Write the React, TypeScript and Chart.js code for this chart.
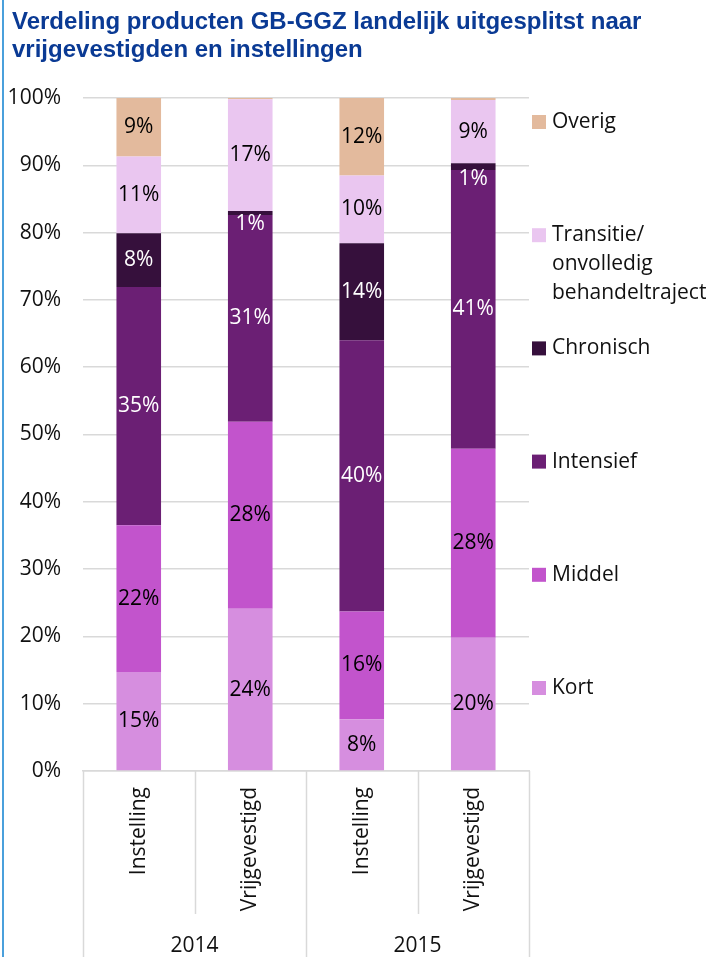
import React, { useEffect, useRef } from "react";
import { Chart, registerables } from "chart.js";

Chart.register(...registerables);

// ---------- data ----------
const categories = ["Instelling", "Vrijgevestigd", "Instelling", "Vrijgevestigd"];
const years = ["2014", "2015"];
const seriesNames = ["Kort", "Middel", "Intensief", "Chronisch", "Transitie/onvolledig behandeltraject", "Overig"];
const legendLabels = [["Kort"], ["Middel"], ["Intensief"], ["Chronisch"], ["Transitie/", "onvolledig", "behandeltraject"], ["Overig"]];
const kort = [14.7, 24.1, 7.7, 19.8];
const middel = [21.8, 27.8, 16.0, 28.1];
const intensief = [35.4, 30.7, 40.3, 41.4];
const chronisch = [8.0, 0.6, 14.4, 1.0];
const transitie = [11.4, 16.6, 10.1, 9.4];
const overig = [8.7, 0.2, 11.5, 0.3];
const titleLines = ["Verdeling producten GB-GGZ landelijk uitgesplitst naar", "vrijgevestigden en instellingen"];

// ---------- styles ----------
const colors = ["#D68EDF", "#C254CC", "#6B1F74", "#36103C", "#EAC6F0", "#E3BA9D"];
const labelColors = ["#000", "#000", "#fff", "#fff", "#000", "#000"];
const FONT = "'Open Sans', sans-serif";
const FS = 21;
const GRID = "#d9d9d9";

const overlay = {
  id: "overlay",
  afterDatasetsDraw(chart: any) {
    const ctx = chart.ctx;
    ctx.save();
    ctx.font = `${FS}px ${FONT}`;
    ctx.textAlign = "center";
    ctx.textBaseline = "middle";
    chart.data.datasets.forEach((ds: any, di: number) => {
      const meta = chart.getDatasetMeta(di);
      meta.data.forEach((el: any, i: number) => {
        const v = ds.data[i];
        if (v < 0.5) return;
        const { x, y, base } = el.getProps(["x", "y", "base"], true);
        const h = base - y;
        const cy = h < 16 ? base + 9 : (y + base) / 2;
        ctx.fillStyle = labelColors[di];
        ctx.fillText(Math.round(v) + "%", x, cy);
      });
    });
    ctx.restore();
  },
  afterDraw(chart: any) {
    const ctx = chart.ctx;
    const xs = chart.scales.x;
    ctx.save();
    // title
    ctx.font = `bold 24px 'Liberation Sans', Arial, sans-serif`;
    ctx.fillStyle = "#0a3a94";
    ctx.textAlign = "left";
    ctx.textBaseline = "alphabetic";
    titleLines.forEach((t, i) => ctx.fillText(t, 12, 29 + i * 28));

    // multi-level x axis dividers
    const cw = (xs.right - xs.left) / categories.length;
    ctx.strokeStyle = GRID;
    ctx.lineWidth = 1.5;
    for (let i = 0; i <= categories.length; i++) {
      const x = Math.round(xs.left + i * cw) + 0.5;
      const bottom = i % 2 === 0 ? chart.height : 914;
      ctx.beginPath();
      ctx.moveTo(x, xs.top);
      ctx.lineTo(x, bottom);
      ctx.stroke();
    }
    // year labels
    ctx.font = `${FS}px ${FONT}`;
    ctx.fillStyle = "#111";
    ctx.textAlign = "center";
    ctx.textBaseline = "middle";
    years.forEach((yr, g) => {
      ctx.fillText(yr, xs.left + (2 * g + 1) * cw, 946);
    });

    // legend (reversed order, top = Overig)
    ctx.textAlign = "left";
    const order = [5, 4, 3, 2, 1, 0];
    order.forEach((si, k) => {
      const y0 = 122 + k * 113.2;
      ctx.fillStyle = colors[si];
      ctx.fillRect(532, y0 - 7, 14, 14);
      ctx.fillStyle = "#111";
      legendLabels[si].forEach((line, j) => ctx.fillText(line, 552, y0 + j * 29));
    });
    ctx.restore();
  },
};

export default function App() {
  const ref = useRef<HTMLCanvasElement>(null);
  useEffect(() => {
    if (!ref.current) return;
    const series = [kort, middel, intensief, chronisch, transitie, overig];
    const chart = new Chart(ref.current, {
      type: "bar",
      data: {
        labels: categories,
        datasets: series.map((d, i) => ({
          label: seriesNames[i],
          data: d,
          backgroundColor: colors[i],
          borderWidth: 0,
          categoryPercentage: 1,
          barPercentage: 0.4,
        })),
      },
      options: {
        responsive: false,
        animation: false,
        devicePixelRatio: 1,
        layout: { padding: { top: 98, right: 182, bottom: 0, left: 0 } },
        plugins: {
          legend: { display: false },
          title: { display: false },
          tooltip: { enabled: false },
        },
        scales: {
          x: {
            stacked: true,
            grid: { display: false },
            border: { display: true, color: GRID, width: 1.5 },
            ticks: {
              autoSkip: false,
              maxRotation: 90,
              minRotation: 90,
              padding: 8,
              color: "#111",
              font: { family: FONT, size: FS },
            },
            afterFit: (s: any) => {
              s.height = 186;
            },
          },
          y: {
            stacked: true,
            min: 0,
            max: 100,
            grid: { color: GRID, lineWidth: 1.5, drawTicks: false },
            border: { display: false },
            ticks: {
              stepSize: 10,
              padding: 22,
              color: "#111",
              font: { family: FONT, size: FS },
              callback: (v: any) => v + "%",
            },
            afterFit: (s: any) => {
              s.width = 83;
            },
          },
        },
      },
      plugins: [overlay],
    });
    return () => chart.destroy();
  }, []);

  return (
    <div style={{ position: "fixed", left: 0, top: 0, width: 711, height: 957, background: "#fff" }}>
      <canvas ref={ref} width={711} height={957} style={{ display: "block" }} />
      <div style={{ position: "absolute", left: 2, top: 0, width: 2, height: 957, background: "#4aa0dc" }} />
    </div>
  );
}
